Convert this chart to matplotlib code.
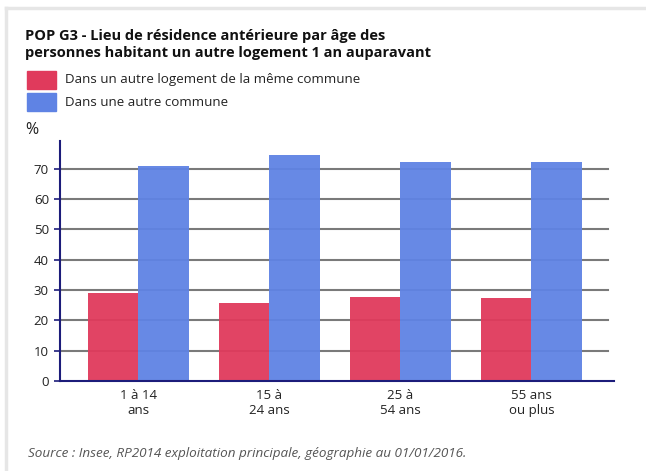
import matplotlib
matplotlib.use("Agg")
import matplotlib.pyplot as plt
from matplotlib.patches import Rectangle
from matplotlib.lines import Line2D
import numpy as np

plt.rcParams['font.family'] = ['Open Sans', 'DejaVu Sans']

categories = ["1 à 14\nans", "15 à\n24 ans", "25 à\n54 ans", "55 ans\nou plus"]
meme_commune = [28.9, 25.6, 27.6, 27.3]
autre_commune = [71.1, 74.7, 72.4, 72.4]
series_names = ["Dans un autre logement de la même commune", "Dans une autre commune"]
yticks = [0, 10, 20, 30, 40, 50, 60, 70]

W, H = 646, 471
fig = plt.figure(figsize=(W/100, H/100), dpi=100)

def fx(px): return px / W
def fy(py): return 1 - py / H

# card border
fig.add_artist(Line2D([fx(6), 1], [fy(8), fy(8)], color='#e6e6e6', lw=2.5))
fig.add_artist(Line2D([fx(6), fx(6)], [fy(8), 0], color='#e6e6e6', lw=2.5))

ax = fig.add_axes([fx(60), fy(381), fx(614) - fx(60), fy(141) - fy(381)])
x = np.arange(len(categories))
bw = 0.385
ax.set_xlim(-0.595, 3.63)
ax.set_ylim(0, 79.2)
for yv in yticks[1:]:
    ax.axhline(yv, color='#7a7a7a', lw=1.5, zorder=1, xmax=0.99)
ax.bar(x - bw/2, meme_commune, bw, color='#e03a5c', alpha=0.95, zorder=2)
ax.bar(x + bw/2, autre_commune, bw, color='#5f83e4', alpha=0.95, zorder=2)
for s in ['top', 'right']:
    ax.spines[s].set_visible(False)
ax.spines['left'].set_color('#1c1c7a')
ax.spines['bottom'].set_color('#1c1c7a')
ax.spines['left'].set_linewidth(1.5)
ax.spines['bottom'].set_linewidth(1.5)
ax.set_yticks(yticks)
ax.set_yticklabels([str(v) for v in yticks], fontsize=9.5, color='#222222')
ax.set_xticks(x)
ax.set_xticklabels(categories, fontsize=9.5, color='#222222', linespacing=1.2)
ax.tick_params(axis='both', length=0, pad=6)
ax.tick_params(axis='y', length=4, color='#1c1c7a', width=1.2, pad=4)
ax.tick_params(axis='x', pad=6)

# title
fig.text(fx(25), fy(36), "POP G3 - Lieu de résidence antérieure par âge des",
         fontsize=10.5, fontweight='bold', color='#111111', va='center')
fig.text(fx(25), fy(53), "personnes habitant un autre logement 1 an auparavant",
         fontsize=10.5, fontweight='bold', color='#111111', va='center')

# legend
for i, (name, col) in enumerate(zip(series_names, ['#e03a5c', '#5f83e4'])):
    yc = 80 + i * 22
    fig.add_artist(Rectangle((fx(27), fy(yc + 9)), fx(56) - fx(27), fy(yc - 9) - fy(yc + 9),
                             color=col, transform=fig.transFigure))
    fig.text(fx(65), fy(yc), name, fontsize=9.6, color='#222222', va='center')

fig.text(fx(25), fy(130), "%", fontsize=11.5, color='#222222', va='center')

fig.text(fx(28), fy(453), "Source : Insee, RP2014 exploitation principale, géographie au 01/01/2016.",
         fontsize=9.7, style='italic', color='#555555', va='center')

fig.savefig("out.png", dpi=100)
